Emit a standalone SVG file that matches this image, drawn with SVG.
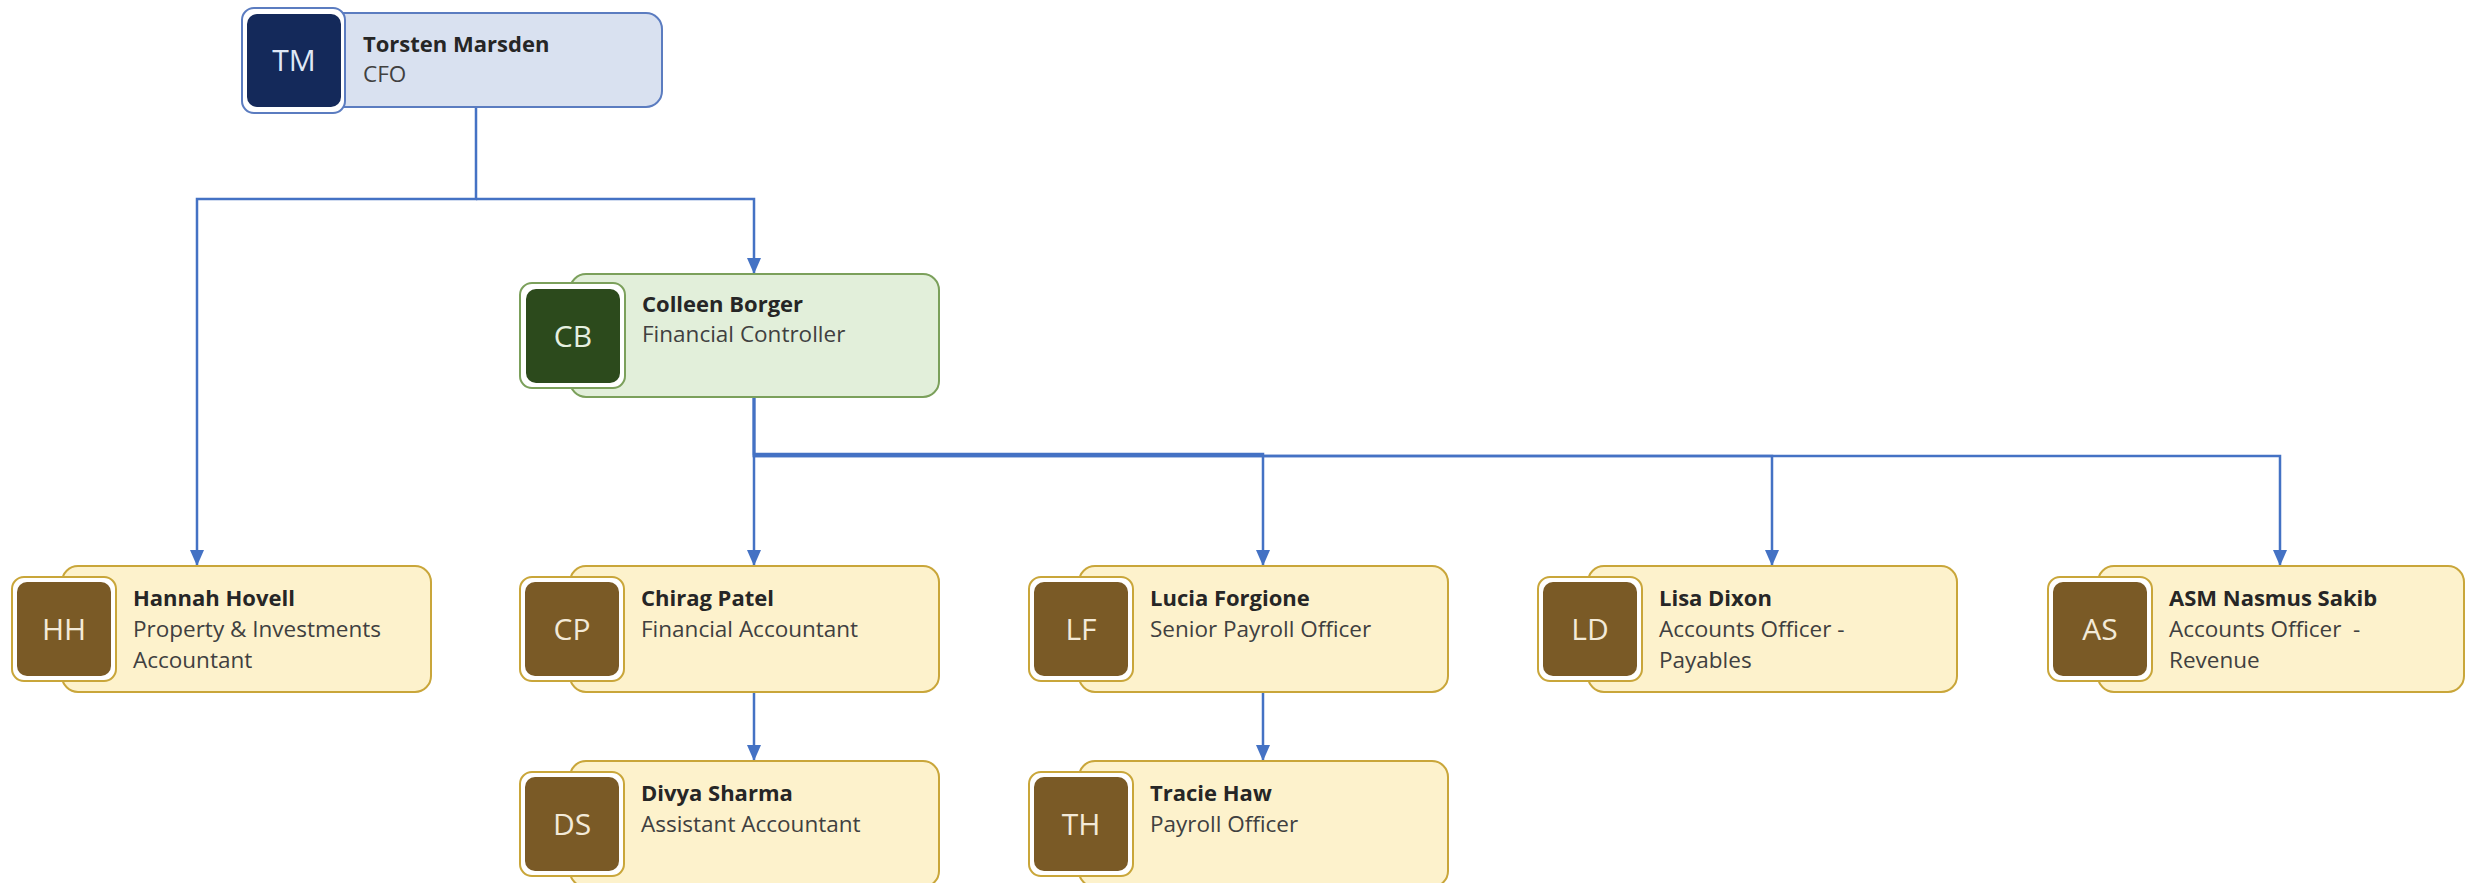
<svg xmlns="http://www.w3.org/2000/svg" width="2466" height="883" viewBox="0 0 2466 883">
  <style>
    .box { stroke-width: 2; }
    .frame { fill: #ffffff; stroke-width: 2; }
    .ini { font-family: "Open Sans", "Noto Sans", sans-serif; font-size: 30px; text-anchor: middle; }
    .name { font-family: "Open Sans", "Noto Sans", sans-serif; font-size: 22px; font-weight: bold; fill: #262626; }
    .title { font-family: "Open Sans", "Noto Sans", sans-serif; font-size: 22.5px; fill: #404040; }
    .blue .box { fill: #d9e1f0; stroke: #5b7cc0; }
    .blue .frame { stroke: #5b7cc0; }
    .blue .badge { fill: #14295a; }
    .blue .ini { fill: #dfe7f5; }
    .green .box { fill: #e2efda; stroke: #7ba05b; }
    .green .frame { stroke: #7ba05b; }
    .green .badge { fill: #2c4a1c; }
    .green .ini { fill: #e6f0e0; }
    .yellow .box { fill: #fdf2cc; stroke: #c9a63a; }
    .yellow .frame { stroke: #c9a63a; }
    .yellow .badge { fill: #7a5a26; }
    .yellow .ini { fill: #f3ead8; }
    .link { fill: none; stroke: #4472c4; stroke-width: 2.5; }
  </style>
  <defs>
    <marker id="arrow" markerUnits="userSpaceOnUse" markerWidth="16" markerHeight="14" refX="16" refY="7" orient="auto">
      <path d="M0,0 L16,7 L0,14 z" fill="#4472c4"/>
    </marker>
  </defs>

  <rect width="2466" height="883" fill="#ffffff"/>

  <!-- reporting lines -->
  <g id="connectors">
    <path class="link" d="M476,107 V199 H197 V566" marker-end="url(#arrow)"/>
    <path class="link" d="M476,199 H754 V274" marker-end="url(#arrow)"/>
    <path class="link" d="M754,397 V566" marker-end="url(#arrow)"/>
    <path class="link" d="M754,397 V454 H1263 V566" marker-end="url(#arrow)"/>
    <path class="link" d="M754,397 V456 H1772 V566" marker-end="url(#arrow)"/>
    <path class="link" d="M754,397 V456 H2280 V566" marker-end="url(#arrow)"/>
    <path class="link" d="M754,692 V761" marker-end="url(#arrow)"/>
    <path class="link" d="M1263,692 V761" marker-end="url(#arrow)"/>
  </g>

  <!-- CFO -->
  <g id="node-tm" class="blue" transform="translate(292,13)">
    <rect class="box" x="0" y="0" width="370" height="94" rx="16"/>
    <rect class="frame" x="-50" y="-5" width="103" height="105" rx="12"/>
    <rect class="badge" x="-45" y="1" width="94" height="93" rx="10"/>
    <text class="ini" x="2" y="58">TM</text>
    <text class="name" x="71" y="39">Torsten Marsden</text>
    <text class="title" x="71" y="69">CFO</text>
  </g>

  <!-- Financial Controller -->
  <g id="node-cb" class="green" transform="translate(570,274)">
    <rect class="box" x="0" y="0" width="369" height="123" rx="16"/>
    <rect class="frame" x="-50" y="9" width="105" height="105" rx="12"/>
    <rect class="badge" x="-44" y="15" width="94" height="94" rx="10"/>
    <text class="ini" x="3" y="73">CB</text>
    <text class="name" x="72" y="38">Colleen Borger</text>
    <text class="title" x="72" y="68">Financial Controller</text>
  </g>

  <!-- second level -->
  <g id="node-hh" class="yellow" transform="translate(62,566)">
    <rect class="box" x="0" y="0" width="369" height="126" rx="16"/>
    <rect class="frame" x="-50" y="11" width="104" height="104" rx="12"/>
    <rect class="badge" x="-45" y="16" width="94" height="94" rx="10"/>
    <text class="ini" x="2" y="74">HH</text>
    <text class="name" x="71" y="40">Hannah Hovell</text>
    <text class="title" x="71" y="71">Property &amp; Investments</text>
    <text class="title" x="71" y="102">Accountant</text>
  </g>

  <g id="node-cp" class="yellow" transform="translate(570,566)">
    <rect class="box" x="0" y="0" width="369" height="126" rx="16"/>
    <rect class="frame" x="-50" y="11" width="104" height="104" rx="12"/>
    <rect class="badge" x="-45" y="16" width="94" height="94" rx="10"/>
    <text class="ini" x="2" y="74">CP</text>
    <text class="name" x="71" y="40">Chirag Patel</text>
    <text class="title" x="71" y="71">Financial Accountant</text>
  </g>

  <g id="node-lf" class="yellow" transform="translate(1079,566)">
    <rect class="box" x="0" y="0" width="369" height="126" rx="16"/>
    <rect class="frame" x="-50" y="11" width="104" height="104" rx="12"/>
    <rect class="badge" x="-45" y="16" width="94" height="94" rx="10"/>
    <text class="ini" x="2" y="74">LF</text>
    <text class="name" x="71" y="40">Lucia Forgione</text>
    <text class="title" x="71" y="71">Senior Payroll Officer</text>
  </g>

  <g id="node-ld" class="yellow" transform="translate(1588,566)">
    <rect class="box" x="0" y="0" width="369" height="126" rx="16"/>
    <rect class="frame" x="-50" y="11" width="104" height="104" rx="12"/>
    <rect class="badge" x="-45" y="16" width="94" height="94" rx="10"/>
    <text class="ini" x="2" y="74">LD</text>
    <text class="name" x="71" y="40">Lisa Dixon</text>
    <text class="title" x="71" y="71">Accounts Officer -</text>
    <text class="title" x="71" y="102">Payables</text>
  </g>

  <g id="node-as" class="yellow" transform="translate(2098,566)">
    <rect class="box" x="0" y="0" width="366" height="126" rx="16"/>
    <rect class="frame" x="-50" y="11" width="104" height="104" rx="12"/>
    <rect class="badge" x="-45" y="16" width="94" height="94" rx="10"/>
    <text class="ini" x="2" y="74">AS</text>
    <text class="name" x="71" y="40">ASM Nasmus Sakib</text>
    <text class="title" x="71" y="71" xml:space="preserve">Accounts Officer  -</text>
    <text class="title" x="71" y="102">Revenue</text>
  </g>

  <!-- third level -->
  <g id="node-ds" class="yellow" transform="translate(570,761)">
    <rect class="box" x="0" y="0" width="369" height="126" rx="16"/>
    <rect class="frame" x="-50" y="11" width="104" height="104" rx="12"/>
    <rect class="badge" x="-45" y="16" width="94" height="94" rx="10"/>
    <text class="ini" x="2" y="74">DS</text>
    <text class="name" x="71" y="40">Divya Sharma</text>
    <text class="title" x="71" y="71">Assistant Accountant</text>
  </g>

  <g id="node-th" class="yellow" transform="translate(1079,761)">
    <rect class="box" x="0" y="0" width="369" height="126" rx="16"/>
    <rect class="frame" x="-50" y="11" width="104" height="104" rx="12"/>
    <rect class="badge" x="-45" y="16" width="94" height="94" rx="10"/>
    <text class="ini" x="2" y="74">TH</text>
    <text class="name" x="71" y="40">Tracie Haw</text>
    <text class="title" x="71" y="71">Payroll Officer</text>
  </g>
</svg>
